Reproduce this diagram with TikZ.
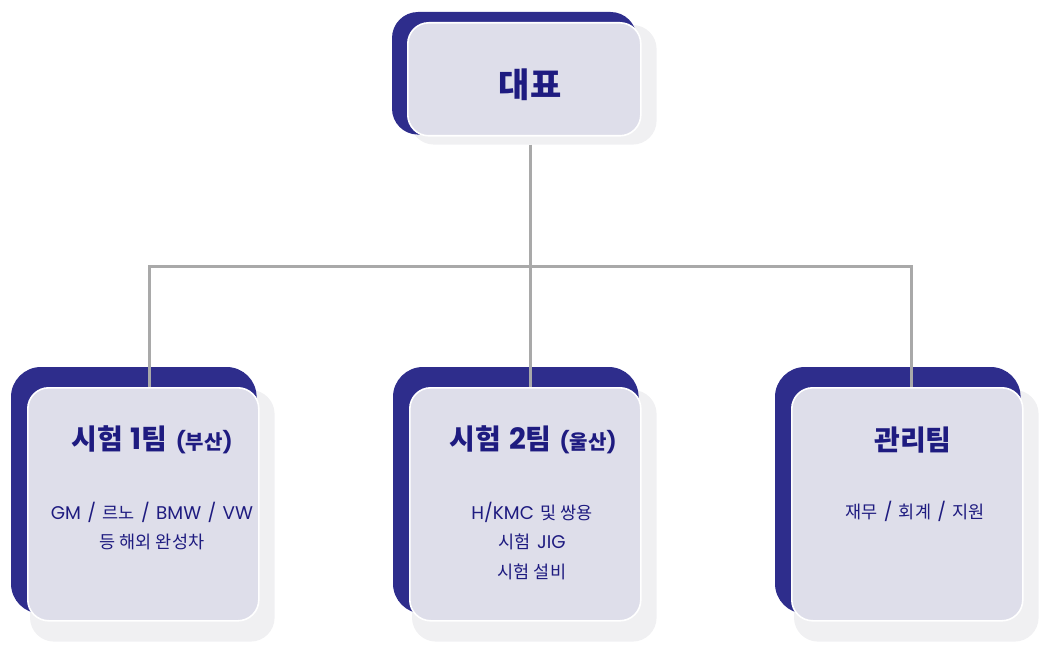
\documentclass[tikz,border=0pt]{standalone}
\usepackage{fontspec}
\setmainfont{Poppins}[Scale=1.05, WordSpace=1.3]
\newfontfamily\krfont{Noto Sans CJK KR}
\usetikzlibrary{positioning,calc}
\definecolor{navy}{HTML}{2E2D8C}
\definecolor{cardfill}{HTML}{DEDEEA}
\definecolor{softgray}{HTML}{F0F0F2}
\definecolor{ink}{HTML}{1E1B80}
\definecolor{wiregray}{HTML}{A9A9A9}
\newcommand{\kr}[1]{{\krfont #1}}
\pgfdeclarelayer{shadows}
\pgfdeclarelayer{wires}
\pgfsetlayers{shadows,wires,main}
\tikzset{
  card/.style={draw=white, line width=1.6pt, fill=cardfill, rounded corners=21pt,
    minimum width=231pt, minimum height=233pt, anchor=north west, inner sep=0pt},
  title/.style={font=\fontsize{28}{34}\selectfont\bfseries},
  info/.style={font=\fontsize{17.5}{29.5}\selectfont, align=center},
  wire/.style={draw=wiregray, line width=3pt}
}
\begin{document}
\begin{tikzpicture}[x=1pt, y=-1pt, every node/.style={text=ink}]
    \useasboundingbox (0,0) rectangle (1050,658);
    % cards
    \node[card, minimum width=233pt, minimum height=113pt] (boss) at (407,22) {};
    \foreach \n/\x in {one/27, two/409, three/791}{
        \node[card] (\n) at (\x,387) {};
    }
    % navy backs and soft shadows
    \begin{pgfonlayer}{shadows}
        \fill[softgray, rounded corners=24pt] ($(boss.north west)+(3,3)$) rectangle ($(boss.south east)+(15,8)$);
        \fill[navy, rounded corners=26pt] ($(boss.north west)+(-15,-10)$) rectangle ($(boss.south east)+(-5,-2)$);
        \foreach \n in {one, two, three}{
            \fill[softgray, rounded corners=24pt] ($(\n.north west)+(3,3)$) rectangle ($(\n.south east)+(15,20)$);
            \fill[navy, rounded corners=30pt] ($(\n.north west)+(-16,-20)$) rectangle ($(\n.south east)+(-3,-8)$);
        }
    \end{pgfonlayer}
    % connectors
    \begin{pgfonlayer}{wires}
        \coordinate (hub) at ([shift={(6.5,130)}]boss.south);
        \draw[wire] ([shift={(6.5,8)}]boss.south) -- (hub);
        \draw[wire] ([xshift=6.5pt]one.north) |- (hub) -| ([xshift=4.5pt]three.north);
        \draw[wire] (hub) -- ([xshift=5.5pt]two.north);
    \end{pgfonlayer}
    % texts
    \node[font=\fontsize{34}{38}\selectfont\krfont\bfseries] (bosstxt) at (530,85) {대표};
    \node[title] (t1) at (152,440) {\kr{시험} 1\kr{팀} {\fontsize{20}{24}\selectfont (\kr{부산})}};
    \node[title] (t2) at (533,440) {\kr{시험} 2\kr{팀} {\fontsize{20}{24}\selectfont (\kr{울산})}};
    \node[title] (t3) at (913,440) {\kr{관리팀}};
    \node[info] (s1) at (152,526) {GM / \kr{르노} / BMW / VW\\\kr{등 해외 완성차}};
    \node[info] (s2) at (532,541) {H/KMC \kr{및 쌍용}\\\kr{시험} JIG\\\kr{시험 설비}};
    \node[info] (s3) at (915,511) {\kr{재무} / \kr{회계} / \kr{지원}};
\end{tikzpicture}
\end{document}
